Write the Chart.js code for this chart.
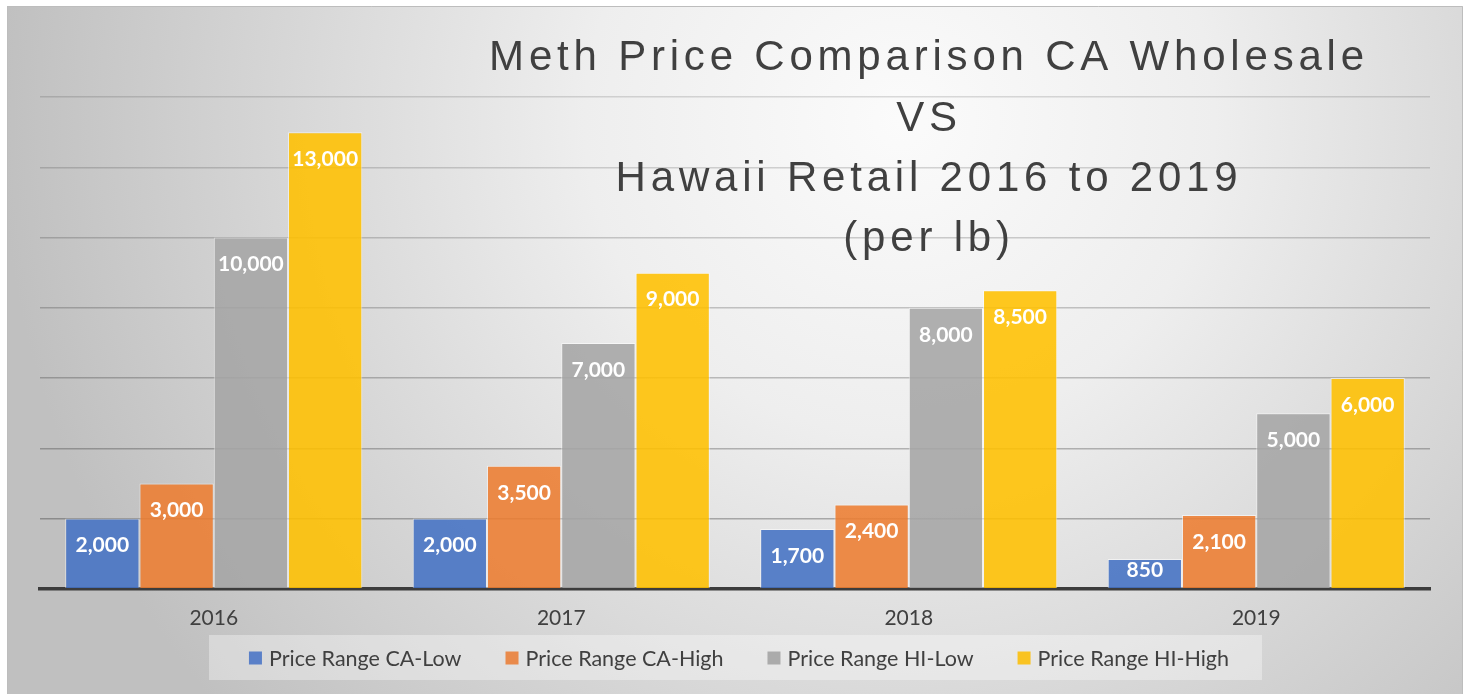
<!DOCTYPE html>
<html>
<head>
<meta charset="utf-8">
<script src="https://cdn.jsdelivr.net/npm/chart.js@4.4.1/dist/chart.umd.min.js"></script>
<style>
  html, body { margin: 0; padding: 0; background: #ffffff; overflow: hidden; }
  #wrap { position: absolute; left: 0; top: 0; width: 1468px; height: 694px; }
</style>
</head>
<body>
<div id="wrap"><canvas id="c" width="1468" height="694"></canvas></div>
<script>
// ---- data ----
const categories = ['2016', '2017', '2018', '2019'];
const seriesNames = ['Price Range CA-Low', 'Price Range CA-High', 'Price Range HI-Low', 'Price Range HI-High'];
const caLow  = [2000, 2000, 1700, 850];
const caHigh = [3000, 3500, 2400, 2100];
const hiLow  = [10000, 7000, 8000, 5000];
const hiHigh = [13000, 9000, 8500, 6000];
const yTicks = [0, 2000, 4000, 6000, 8000, 10000, 12000, 14000];
const titleLines = ['Meth Price Comparison CA Wholesale', 'VS', 'Hawaii Retail 2016 to 2019', '(per lb)'];

// ---- styles ----
const colors = ['rgba(68,114,196,0.88)', 'rgba(237,125,49,0.88)', 'rgba(165,165,165,0.88)', 'rgba(255,192,0,0.88)'];
const legendColors = ['#5a80c8', '#e98a4b', '#ababab', '#f9c322'];
const textColor = '#404040';
const labelFont = 'Lato, "Open Sans", sans-serif';

const bgPlugin = {
  id: 'bg',
  beforeDraw(chart) {
    const ctx = chart.ctx;
    ctx.save();
    ctx.fillStyle = '#ffffff';
    ctx.fillRect(0, 0, chart.width, chart.height);
    const g = ctx.createRadialGradient(900, 120, 0, 900, 120, 900);
    g.addColorStop(0, '#fbfbfb');
    g.addColorStop(0.35, '#eeeeee');
    g.addColorStop(1, '#c0c0c0');
    ctx.fillStyle = g;
    ctx.fillRect(7, 6, 1456, 700);
    ctx.strokeStyle = '#bdbdbd';
    ctx.lineWidth = 1;
    ctx.beginPath();
    ctx.moveTo(7.5, 700); ctx.lineTo(7.5, 6.5); ctx.lineTo(1462.5, 6.5); ctx.lineTo(1462.5, 700);
    ctx.stroke();
    ctx.restore();
  }
};

const labelPlugin = {
  id: 'valueLabels',
  afterDatasetsDraw(chart) {
    const ctx = chart.ctx;
    ctx.save();
    ctx.fillStyle = '#ffffff';
    ctx.font = 'bold 21px ' + labelFont;
    ctx.textAlign = 'center';
    ctx.textBaseline = 'middle';
    chart.data.datasets.forEach((ds, i) => {
      const meta = chart.getDatasetMeta(i);
      meta.data.forEach((bar, j) => {
        const v = ds.data[j];
        const yy = Math.min(bar.y + 27, bar.base - 18);
        ctx.fillText(v.toLocaleString('en-US'), bar.x, yy);
      });
    });
    ctx.restore();
  }
};

const titlePlugin = {
  id: 'overTitle',
  afterDraw(chart) {
    const ctx = chart.ctx;
    ctx.save();
    ctx.fillStyle = textColor;
    ctx.font = '42px "Liberation Sans", Arial, sans-serif';
    ctx.textAlign = 'center';
    ctx.textBaseline = 'alphabetic';
    ctx.letterSpacing = '4.8px';
    const baselines = [70, 131, 191, 251];
    titleLines.forEach((t, i) => ctx.fillText(t, 929, baselines[i]));
    ctx.restore();
  }
};

const legendPlugin = {
  id: 'boxLegend',
  afterDraw(chart) {
    const ctx = chart.ctx;
    ctx.save();
    ctx.fillStyle = 'rgba(255,255,255,0.35)';
    ctx.fillRect(209, 635, 1053, 45);
    ctx.font = '21.5px ' + labelFont;
    ctx.textBaseline = 'middle';
    ctx.textAlign = 'left';
    const box = 13, gapText = 7, gapItem = 44;
    const names = chart.data.datasets.map(d => d.label);
    const widths = names.map(n => box + gapText + ctx.measureText(n).width);
    const total = widths.reduce((a, b) => a + b, 0) + gapItem * (names.length - 1);
    let x = 739 - total / 2;
    const cy = 658;
    names.forEach((n, i) => {
      ctx.fillStyle = legendColors[i];
      ctx.fillRect(x, cy - 6.5, box, box);
      ctx.fillStyle = textColor;
      ctx.fillText(n, x + box + gapText, cy + 1);
      x += widths[i] + gapItem;
    });
    ctx.restore();
  }
};

const seriesData = [caLow, caHigh, hiLow, hiHigh];

new Chart(document.getElementById('c'), {
  type: 'bar',
  data: {
    labels: categories,
    datasets: seriesNames.map((name, i) => ({
      label: name,
      data: seriesData[i],
      backgroundColor: colors[i],
      borderColor: 'rgba(255,255,255,0.55)',
      borderWidth: 1,
      categoryPercentage: 0.855,
      barPercentage: 1.0
    }))
  },
  options: {
    responsive: false,
    animation: false,
    layout: { padding: { left: 40, right: 38, top: 97, bottom: 46 } },
    plugins: {
      legend: { display: false },
      title: { display: false },
      tooltip: { enabled: false }
    },
    scales: {
      x: {
        grid: { display: false, drawTicks: false },
        border: { display: true, color: '#3c3c3c', width: 3.5 },
        ticks: { color: textColor, font: { family: labelFont, size: 21 }, padding: 17 }
      },
      y: {
        min: 0, max: 14000,
        afterBuildTicks(scale) { scale.ticks = yTicks.map(v => ({ value: v })); },
        grid: {
          color: (c) => 'rgba(0,0,0,' + (0.30 - 0.012 * ((c.tick ? c.tick.value : 0) / 1000)).toFixed(3) + ')',
          lineWidth: 1.5, drawTicks: false
        },
        border: { display: false },
        ticks: { display: false }
      }
    }
  },
  plugins: [bgPlugin, labelPlugin, titlePlugin, legendPlugin]
});
</script>
</body>
</html>
